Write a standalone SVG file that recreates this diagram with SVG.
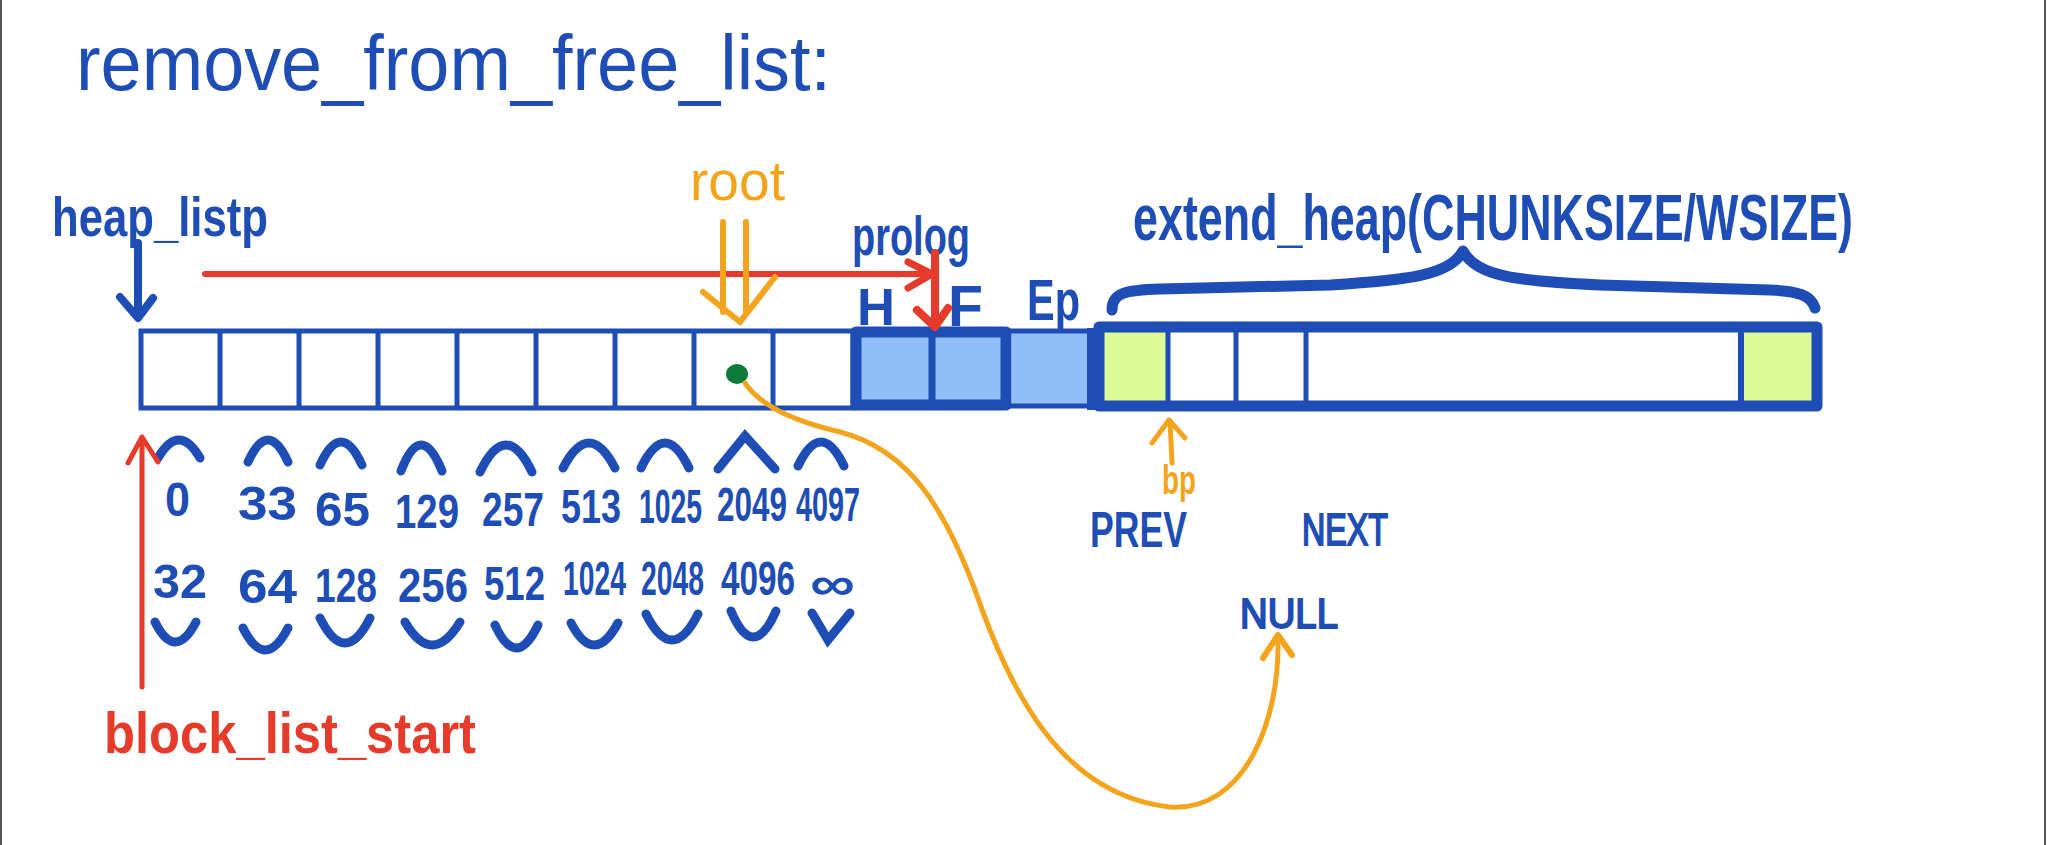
<svg xmlns="http://www.w3.org/2000/svg" width="2048" height="845" viewBox="0 0 2048 845">
<style>
text{font-family:"Liberation Sans","DejaVu Sans",sans-serif}
.b{fill:#1d4db5}
.bb{fill:#1d4db5;font-weight:bold}
.r{fill:#e63b2b;font-weight:bold}
.o{fill:#f2a41d}
.num{fill:#1d4db5;font-weight:bold;font-size:48px}
.ln{fill:none;stroke:#1d4db5;stroke-width:5}
.thk{fill:none;stroke:#1d4db5;stroke-width:11;stroke-linejoin:round}
.arc{fill:none;stroke:#1d4db5;stroke-width:9;stroke-linecap:round}
.ra{fill:none;stroke:#e63b2b;stroke-linecap:round;stroke-linejoin:round}
.oa{fill:none;stroke:#f2a41d;stroke-linecap:round;stroke-linejoin:round}
.ba{fill:none;stroke:#1d4db5;stroke-linecap:round;stroke-linejoin:round}
</style>
<rect width="2048" height="845" fill="#ffffff"/>
<line x1="1" y1="0" x2="1" y2="845" stroke="#555" stroke-width="2"/>
<line x1="2045" y1="0" x2="2045" y2="845" stroke="#555" stroke-width="2"/>

<g id="title"><text x="76" y="90" class="b" font-size="78" textLength="755" lengthAdjust="spacingAndGlyphs">remove_from_free_list:</text></g>

<g id="free-list-cells">
<rect x="141" y="331" width="712" height="77" class="ln" fill="#fff"/>
<path class="ln" d="M220,331V408M299,331V408M378,331V408M457,331V408M536,331V408M615,331V408M694,331V408M773,331V408"/>
<ellipse cx="737" cy="374" rx="11" ry="10" fill="#0b7a3b"/>
</g>

<g id="prolog-block">
<rect x="856" y="332" width="150" height="73" fill="#90bef7"/>
<rect x="856" y="332" width="150" height="73" class="thk" stroke-width="10"/>
<line x1="932" y1="332" x2="932" y2="405" stroke="#1d4db5" stroke-width="7"/>
</g>

<g id="epilogue-block">
<rect x="1012" y="332" width="80" height="73" fill="#90bef7"/>
<path class="ln" d="M1006,331H1092M1006,406H1092" stroke-width="7"/>
<line x1="1092" y1="328" x2="1092" y2="410" stroke="#1d4db5" stroke-width="10"/>
</g>

<g id="extend-heap-block">
<rect x="1100" y="330" width="68" height="72" fill="#dbfb96"/>
<rect x="1742" y="330" width="72" height="72" fill="#dbfb96"/>
<rect x="1099" y="327" width="718" height="79" class="thk" stroke-width="12"/>
<path class="ln" d="M1168,330V402M1236,330V402M1306,330V402"/>
<line x1="1741" y1="330" x2="1741" y2="402" stroke="#1d4db5" stroke-width="6"/>
<path class="thk" stroke-width="11" stroke-linecap="round" d="M1112,310C1112,293 1125,290 1160,289L1330,285C1410,280 1450,275 1463,251C1476,276 1515,281 1600,285L1770,290C1800,291 1811,296 1815,308"/>
</g>

<g id="labels">
<text x="52" y="236" class="bb" font-size="56" textLength="216" lengthAdjust="spacingAndGlyphs">heap_listp</text>
<text x="690" y="200" class="o" font-size="56" textLength="95" lengthAdjust="spacingAndGlyphs">root</text>
<text x="852" y="255" class="bb" font-size="56" textLength="118" lengthAdjust="spacingAndGlyphs">prolog</text>
<text x="857" y="325" class="bb" font-size="52" textLength="38" lengthAdjust="spacingAndGlyphs">H</text>
<text x="948" y="326" class="bb" font-size="58" textLength="35" lengthAdjust="spacingAndGlyphs">F</text>
<text x="1027" y="320" class="bb" font-size="58" textLength="53" lengthAdjust="spacingAndGlyphs">Ep</text>
<text x="1133" y="240" class="bb" font-size="64" textLength="720" lengthAdjust="spacingAndGlyphs">extend_heap(CHUNKSIZE/WSIZE)</text>
<text x="1162" y="494" class="o" font-weight="bold" font-size="40" textLength="34" lengthAdjust="spacingAndGlyphs">bp</text>
<text x="1090" y="547" class="bb" font-size="50" textLength="97" lengthAdjust="spacingAndGlyphs">PREV</text>
<text x="1302" y="545" class="b" font-size="44" stroke="#1d4db5" stroke-width="2" textLength="86" lengthAdjust="spacingAndGlyphs">NEXT</text>
<text x="1240" y="628" class="b" font-size="42" stroke="#1d4db5" stroke-width="2" textLength="98" lengthAdjust="spacingAndGlyphs">NULL</text>
<text x="104" y="753" class="r" font-size="58" textLength="372" lengthAdjust="spacingAndGlyphs">block_list_start</text>
</g>

<g id="size-classes">
<path class="arc" d="M158,458Q179,422 200,458M248,462Q268,418 288,462M320,465Q341,419 362,465M401,471Q421,419 442,471M480,472Q506,418 532,472M563,468Q589,418 615,468M641,468Q665,418 689,468M718,469L745,436L775,469M798,466Q821,418 844,466"/>
<path class="arc" d="M155,622Q175,662 196,622M243,628Q265,672 288,628M320,618Q345,668 370,618M405,622Q432,668 460,622M495,625Q516,671 538,625M571,623Q594,667 618,623M646,614Q672,666 698,614M731,611Q753,663 776,611M812,613L828,640L850,613"/>
<text class="num" x="165" y="516" textLength="25" lengthAdjust="spacingAndGlyphs">0</text>
<text class="num" x="238" y="520" textLength="59" lengthAdjust="spacingAndGlyphs">33</text>
<text class="num" x="315" y="526" textLength="55" lengthAdjust="spacingAndGlyphs">65</text>
<text class="num" x="395" y="528" textLength="64" lengthAdjust="spacingAndGlyphs">129</text>
<text class="num" x="482" y="526" textLength="62" lengthAdjust="spacingAndGlyphs">257</text>
<text class="num" x="561" y="523" textLength="60" lengthAdjust="spacingAndGlyphs">513</text>
<text class="num" x="639" y="523" textLength="63" lengthAdjust="spacingAndGlyphs">1025</text>
<text class="num" x="717" y="521" textLength="70" lengthAdjust="spacingAndGlyphs">2049</text>
<text class="num" x="796" y="521" textLength="64" lengthAdjust="spacingAndGlyphs">4097</text>
<text class="num" x="153" y="598" textLength="54" lengthAdjust="spacingAndGlyphs">32</text>
<text class="num" x="238" y="603" textLength="59" lengthAdjust="spacingAndGlyphs">64</text>
<text class="num" x="315" y="602" textLength="62" lengthAdjust="spacingAndGlyphs">128</text>
<text class="num" x="398" y="602" textLength="70" lengthAdjust="spacingAndGlyphs">256</text>
<text class="num" x="484" y="600" textLength="61" lengthAdjust="spacingAndGlyphs">512</text>
<text class="num" x="563" y="595" textLength="63" lengthAdjust="spacingAndGlyphs">1024</text>
<text class="num" x="641" y="595" textLength="63" lengthAdjust="spacingAndGlyphs">2048</text>
<text class="num" x="721" y="595" textLength="74" lengthAdjust="spacingAndGlyphs">4096</text>
<text class="num" x="810" y="600" font-size="64" textLength="45" lengthAdjust="spacingAndGlyphs">∞</text>
</g>

<g id="connectors">
<path class="ba" stroke-width="8" d="M138,243V316M120,297L138,318L153,298"/>
<path class="ra" stroke-width="6" d="M205,274H930"/>
<path class="ra" stroke-width="7" d="M908,262L932,274L908,288"/>
<path class="ra" stroke-width="8" d="M935,253V325M917,310L935,327L948,308"/>
<path class="oa" stroke-width="6" d="M723,222V312M746,222V312M703,292L740,322L775,277"/>
<path class="ra" stroke-width="5" d="M142,687V438M128,463L142,437L158,462"/>
<path class="oa" stroke-width="5" d="M1172,463L1170,421M1152,443L1169,420L1185,438"/>
<path class="oa" stroke-width="5" d="M745,383C760,405 790,420 840,432C910,450 945,510 975,590C1010,690 1060,795 1170,807C1245,812 1280,720 1278,638"/>
<path class="oa" stroke-width="6" d="M1263,658L1278,635L1292,655"/>
</g>
</svg>
